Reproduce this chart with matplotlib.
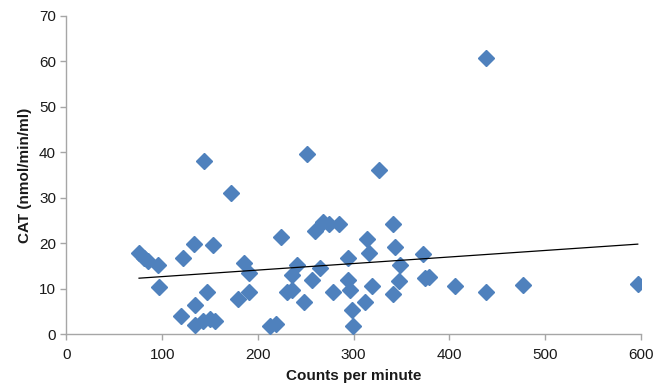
import numpy as np
import matplotlib
matplotlib.use("Agg")
import matplotlib.pyplot as plt

plt.rcParams['font.family'] = ['Liberation Sans', 'DejaVu Sans']

counts_per_minute = [75.8, 81, 85.5, 95.5, 96.7, 119.3, 121.4, 133.6, 134.3, 134.3,
                     142.7, 143.7, 146.8, 149.5, 152.8, 155.2, 171.6, 179.5, 185.8, 190.4,
                     191, 212.6, 218.9, 224.1, 230, 235.3, 235.3, 240.5, 248.5, 251,
                     256.8, 259.7, 264.9, 268.3, 274.6, 278.2, 285, 294.5, 294.5, 296.2,
                     298, 299, 311.9, 314.5, 316.1, 319.5, 326.9, 341.5, 341.5, 343.3,
                     347.8, 348.5, 372.2, 374.6, 378.8, 406, 438, 438.4, 476.7, 596.9]
cat_activity = [17.8, 16.8, 16.1, 15.3, 10.4, 4.1, 16.7, 19.8, 6.4, 2.1,
                2.8, 38.1, 9.2, 3.3, 19.5, 2.8, 31.1, 7.7, 15.6, 9.3,
                13.5, 1.9, 2.2, 21.3, 9.3, 9.7, 12.9, 15.2, 7.0, 39.5,
                11.9, 22.7, 14.5, 24.7, 24.2, 9.2, 24.2, 16.8, 11.9, 9.7,
                5.3, 1.8, 7.0, 21.0, 17.8, 10.7, 36.0, 24.2, 8.8, 19.1,
                11.7, 15.1, 17.6, 12.3, 12.6, 10.7, 60.8, 9.2, 10.8, 11.0]

x_ticks = [0, 100, 200, 300, 400, 500, 600]
y_ticks = [0, 10, 20, 30, 40, 50, 60, 70]

fig = plt.figure(figsize=(6.67, 3.88), dpi=100)
ax = fig.add_axes([0.0997, 0.1387, 0.8609, 0.8208])

x = np.array(counts_per_minute)
y = np.array(cat_activity)
ax.plot(x, y, linestyle='none', marker='D', markersize=7.8,
        color='#4F81BD', markeredgecolor='#4F81BD', zorder=3)

slope, intercept = np.polyfit(x, y, 1)
xl = np.array([x.min(), x.max()])
ax.plot(xl, slope * xl + intercept, color='black', linewidth=0.9, zorder=4)

ax.set_xlim(0, 600)
ax.set_ylim(0, 70)
ax.set_xticks(x_ticks)
ax.set_yticks(y_ticks)
for s in ['top', 'right']:
    ax.spines[s].set_visible(False)
for s in ['left', 'bottom']:
    ax.spines[s].set_color('#A6A6A6')
    ax.spines[s].set_linewidth(1.0)
ax.tick_params(axis='both', colors='#A6A6A6', length=4, width=1.0,
               labelcolor='#1A1A1A', labelsize=11)
ax.tick_params(axis='x', pad=6)
ax.set_xlabel('Counts per minute', fontsize=11, fontweight='bold', color='#1A1A1A', labelpad=5)
ax.set_ylabel('CAT (nmol/min/ml)', fontsize=11, fontweight='bold', color='#1A1A1A', labelpad=5)

fig.savefig('out.png', dpi=100)
